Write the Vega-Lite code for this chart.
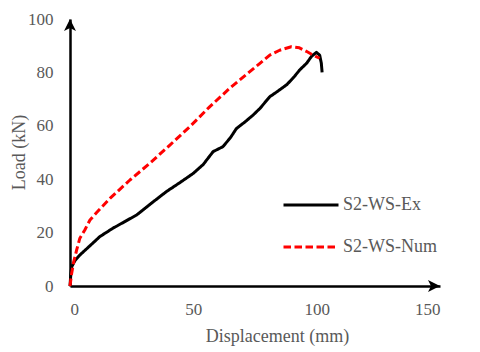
{
  "$schema": "https://vega.github.io/schema/vega-lite/v6.json",
  "width": 370,
  "height": 267,
  "autosize": {"type": "none"},
  "padding": {"left": 70, "top": 19, "right": 40, "bottom": 66},
  "background": "white",
  "config": {
    "view": {"stroke": null},
    "font": "Liberation Serif",
    "axis": {"grid": false, "ticks": false, "domainColor": "black", "domainWidth": 2.5, "labelFont": "Liberation Serif", "labelFontSize": 17, "labelColor": "#595959", "titleFont": "Liberation Serif", "titleFontSize": 18, "titleFontWeight": "normal", "titleColor": "#595959"}
  },
  "datasets": {
    "curves": [
      {"s": "S2-WS-Ex", "i": 0, "x": 0, "y": 0},
      {"s": "S2-WS-Ex", "i": 1, "x": 0.3, "y": 4},
      {"s": "S2-WS-Ex", "i": 2, "x": 0.7, "y": 7.2},
      {"s": "S2-WS-Ex", "i": 3, "x": 2, "y": 9.5},
      {"s": "S2-WS-Ex", "i": 4, "x": 4, "y": 11.6},
      {"s": "S2-WS-Ex", "i": 5, "x": 8, "y": 15},
      {"s": "S2-WS-Ex", "i": 6, "x": 12.1, "y": 18.5},
      {"s": "S2-WS-Ex", "i": 7, "x": 17.5, "y": 21.7},
      {"s": "S2-WS-Ex", "i": 8, "x": 22, "y": 24},
      {"s": "S2-WS-Ex", "i": 9, "x": 27, "y": 26.6},
      {"s": "S2-WS-Ex", "i": 10, "x": 33, "y": 31},
      {"s": "S2-WS-Ex", "i": 11, "x": 39, "y": 35.3},
      {"s": "S2-WS-Ex", "i": 12, "x": 45, "y": 39},
      {"s": "S2-WS-Ex", "i": 13, "x": 50, "y": 42.2},
      {"s": "S2-WS-Ex", "i": 14, "x": 54, "y": 45.5},
      {"s": "S2-WS-Ex", "i": 15, "x": 58, "y": 50.3},
      {"s": "S2-WS-Ex", "i": 16, "x": 62, "y": 52.2},
      {"s": "S2-WS-Ex", "i": 17, "x": 65, "y": 55.5},
      {"s": "S2-WS-Ex", "i": 18, "x": 67.5, "y": 59},
      {"s": "S2-WS-Ex", "i": 19, "x": 71, "y": 61.5},
      {"s": "S2-WS-Ex", "i": 20, "x": 74.2, "y": 64},
      {"s": "S2-WS-Ex", "i": 21, "x": 77, "y": 66.5},
      {"s": "S2-WS-Ex", "i": 22, "x": 81, "y": 70.9},
      {"s": "S2-WS-Ex", "i": 23, "x": 84, "y": 72.8},
      {"s": "S2-WS-Ex", "i": 24, "x": 88, "y": 75.5},
      {"s": "S2-WS-Ex", "i": 25, "x": 91, "y": 78.5},
      {"s": "S2-WS-Ex", "i": 26, "x": 93.1, "y": 80.9},
      {"s": "S2-WS-Ex", "i": 27, "x": 96, "y": 83.5},
      {"s": "S2-WS-Ex", "i": 28, "x": 97.9, "y": 86},
      {"s": "S2-WS-Ex", "i": 29, "x": 99.9, "y": 87.5},
      {"s": "S2-WS-Ex", "i": 30, "x": 101.2, "y": 86.5},
      {"s": "S2-WS-Ex", "i": 31, "x": 101.9, "y": 83.4},
      {"s": "S2-WS-Ex", "i": 32, "x": 102.2, "y": 80},
      {"s": "S2-WS-Num", "i": 0, "x": 0, "y": 0},
      {"s": "S2-WS-Num", "i": 1, "x": 0.7, "y": 4.9},
      {"s": "S2-WS-Num", "i": 2, "x": 1.5, "y": 9},
      {"s": "S2-WS-Num", "i": 3, "x": 2.7, "y": 13.5},
      {"s": "S2-WS-Num", "i": 4, "x": 4, "y": 17.9},
      {"s": "S2-WS-Num", "i": 5, "x": 6, "y": 21},
      {"s": "S2-WS-Num", "i": 6, "x": 8.1, "y": 24.7},
      {"s": "S2-WS-Num", "i": 7, "x": 10.8, "y": 27.5},
      {"s": "S2-WS-Num", "i": 8, "x": 16.2, "y": 32.8},
      {"s": "S2-WS-Num", "i": 9, "x": 24.3, "y": 39.7},
      {"s": "S2-WS-Num", "i": 10, "x": 32.4, "y": 46},
      {"s": "S2-WS-Num", "i": 11, "x": 40.5, "y": 52.8},
      {"s": "S2-WS-Num", "i": 12, "x": 48.6, "y": 59.7},
      {"s": "S2-WS-Num", "i": 13, "x": 56.7, "y": 67.2},
      {"s": "S2-WS-Num", "i": 14, "x": 64.8, "y": 74.1},
      {"s": "S2-WS-Num", "i": 15, "x": 72.9, "y": 80.3},
      {"s": "S2-WS-Num", "i": 16, "x": 77, "y": 83.4},
      {"s": "S2-WS-Num", "i": 17, "x": 81, "y": 86.5},
      {"s": "S2-WS-Num", "i": 18, "x": 85, "y": 88.3},
      {"s": "S2-WS-Num", "i": 19, "x": 89.7, "y": 89.6},
      {"s": "S2-WS-Num", "i": 20, "x": 93, "y": 89.2},
      {"s": "S2-WS-Num", "i": 21, "x": 95.8, "y": 87.9},
      {"s": "S2-WS-Num", "i": 22, "x": 98.5, "y": 86.5},
      {"s": "S2-WS-Num", "i": 23, "x": 101.2, "y": 85.3}
    ],
    "arrows": [
      {"x": 0, "y": 100, "dir": "up"},
      {"x": 150, "y": 0, "dir": "right"}
    ]
  },
  "layer": [
    {
      "data": {"name": "curves"},
      "mark": {"type": "line", "strokeWidth": 3, "strokeJoin": "round"},
      "encoding": {
        "x": {"field": "x", "type": "quantitative", "scale": {"domain": [0, 150], "nice": false}, "axis": {"values": [0, 50, 100, 150], "title": "Displacement (mm)", "labelPadding": 15, "titleX": 207, "titleY": 50, "titleBaseline": "middle", "titleAnchor": "middle"}},
        "y": {"field": "y", "type": "quantitative", "scale": {"domain": [0, 100], "nice": false}, "axis": {"values": [0, 20, 40, 60, 80, 100], "title": "Load (kN)", "labelPadding": 17, "titleX": -51, "titleY": 133, "titleBaseline": "middle", "titleAnchor": "middle"}},
        "order": {"field": "i", "type": "quantitative"},
        "color": {"field": "s", "type": "nominal", "scale": {"domain": ["S2-WS-Ex", "S2-WS-Num"], "range": ["black", "#ff0000"]}, "legend": {"title": null, "orient": "none", "legendX": 212, "legendY": 157, "symbolType": "stroke", "symbolSize": 3025, "symbolStrokeWidth": 3, "labelFont": "Liberation Serif", "labelFontSize": 18, "labelColor": "#595959", "labelOffset": 3, "rowPadding": 4, "padding": 0}},
        "strokeDash": {"field": "s", "type": "nominal", "scale": {"domain": ["S2-WS-Ex", "S2-WS-Num"], "range": [[1, 0], [7.5, 3.5]]}, "legend": {"title": null, "orient": "none", "legendX": 212, "legendY": 157, "symbolType": "stroke", "symbolSize": 3025, "symbolStrokeWidth": 3, "labelFont": "Liberation Serif", "labelFontSize": 18, "labelColor": "#595959", "labelOffset": 3, "rowPadding": 4, "padding": 0}}
      }
    },
    {
      "data": {"name": "arrows"},
      "transform": [{"filter": "datum.dir == 'up'"}],
      "mark": {"type": "point", "shape": "M0,0 L1,2 L0,1.5 L-1,2 Z", "filled": true, "color": "black", "opacity": 1, "size": 144, "clip": false},
      "encoding": {
        "x": {"field": "x", "type": "quantitative"},
        "y": {"field": "y", "type": "quantitative"}
      }
    },
    {
      "data": {"name": "arrows"},
      "transform": [{"filter": "datum.dir == 'right'"}],
      "mark": {"type": "point", "shape": "M0,0 L-2,-1 L-1.5,0 L-2,1 Z", "filled": true, "color": "black", "opacity": 1, "size": 144, "clip": false},
      "encoding": {
        "x": {"field": "x", "type": "quantitative"},
        "y": {"field": "y", "type": "quantitative"}
      }
    }
  ]
}
